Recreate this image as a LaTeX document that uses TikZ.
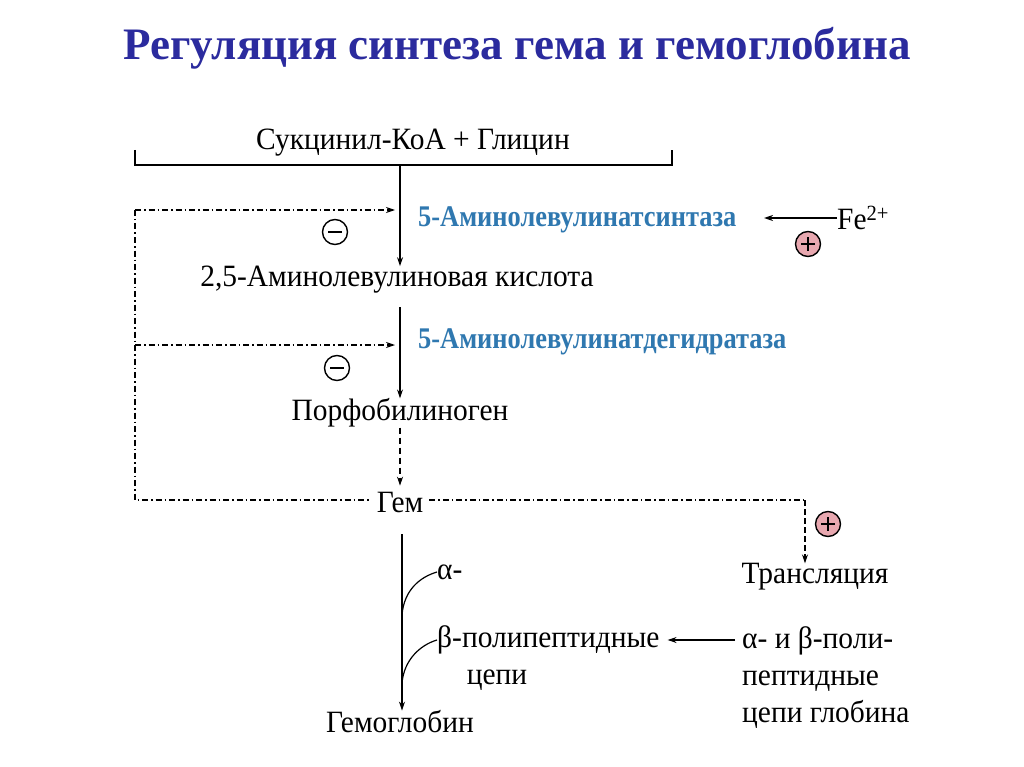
\documentclass[tikz,border=0pt]{standalone}
\usepackage{fontspec}
\setmainfont{Liberation Serif}
\newfontfamily\bodyfont[FakeStretch=0.95]{Liberation Serif}
\newfontfamily\enzfont[FakeStretch=0.88]{Liberation Serif}
\usetikzlibrary{arrows.meta}
\definecolor{titleblue}{HTML}{2B2B9E}
\definecolor{enzblue}{HTML}{2F78B0}
\definecolor{pinkfill}{HTML}{E8A8B0}
\begin{document}
\begin{tikzpicture}[x=1pt,y=-1pt,
  txt/.style={font=\bodyfont\fontsize{31}{37}\selectfont,inner sep=0pt},
  enz/.style={font=\enzfont\bfseries\fontsize{30}{34}\selectfont,text=enzblue,inner sep=0pt,anchor=west},
  arr/.style={-{Stealth[length=9pt,width=6pt]},line width=1.2pt},
  dd/.style={line width=1.2pt,dash pattern=on 6pt off 3pt on 1.5pt off 3pt},
  ddarr/.style={dd,-{Stealth[length=9pt,width=6pt]}},
  sign/.style={circle,draw,line width=1.4pt,minimum size=25pt,inner sep=0pt},
  minus/.style={sign,path picture={\draw[line width=1.6pt] ([xshift=-7pt]path picture bounding box.center) -- ([xshift=7pt]path picture bounding box.center);}},
  plus/.style={sign,fill=pinkfill,path picture={\draw[line width=1.6pt] ([xshift=-7pt]path picture bounding box.center) -- ([xshift=7pt]path picture bounding box.center) ([yshift=-7pt]path picture bounding box.center) -- ([yshift=7pt]path picture bounding box.center);}}]
\useasboundingbox (0,0) rectangle (1024,767);
\fill[white] (0,0) rectangle (1024,767);
\node[font=\bfseries\fontsize{45}{49}\selectfont,text=titleblue] (title) at (517,48) {Регуляция синтеза гема и гемоглобина};
% bracket
\node[txt] (sub) at (413,143) {Сукцинил-КоА + Глицин};
\coordinate (bl) at (135,150); \coordinate (br) at (672,150);
\coordinate (bm) at (400,165);
\draw[line width=1.4pt] (bl) -- (135,165) -- (672,165) -- (br);
\node[txt] (ala) at (397,280) {2,5-Аминолевулиновая кислота};
\node[txt] (pbg) at (400,413) {Порфобилиноген};
\node[txt,outer sep=6pt] (gem) at (400,502) {Гем};
\node[txt] (hb) at (400,722) {Гемоглобин};
\coordinate (c1) at (400,307);
\coordinate (c2) at (402,534);
\draw[arr] (bm) -- (bm |- ala.north);
\draw[arr] (c1) -- (c1 |- pbg.north);
\draw[arr,dash pattern=on 6pt off 4pt] (pbg.south) -- (gem.north);
\draw[arr] (c2) -- (c2 |- hb.north);
% enzymes
\node[enz] (e1) at (418,220) {5-Аминолевулинатсинтаза};
\node[enz] (e2) at (418,342) {5-Аминолевулинатдегидратаза};
\node[txt,anchor=west] (fe) at (837,218) {Fe\textsuperscript{2+}};
\coordinate (feend) at (764,218);
\draw[arr] (fe.west) -- (feend);
\node[plus] (p1) at (808,244) {};
% feedback
\coordinate (l1) at (135,210); \coordinate (l2) at (135,345); \coordinate (l3) at (135,500);
\coordinate (a1) at (395,210); \coordinate (a2) at (395,345);
\draw[ddarr] (l1) -- (a1);
\draw[ddarr] (l2) -- (a2);
\draw[dd] (l1) -- (l3) -- (gem.west |- l3);
\node[minus] (m1) at (335,232) {};
\node[minus] (m2) at (337,368) {};
\coordinate (r1) at (805,500);
\node[txt] (tr) at (815,577) {Трансляция};
\draw[dd] (gem.east |- r1) -- (r1);
\draw[arr,dash pattern=on 6pt off 3pt] (r1) -- (r1 |- tr.north);
\node[plus] (p2) at (828,524) {};
% chains
\node[txt,anchor=west] (alpha) at (437,572) {α-};
\node[txt,anchor=west] (beta) at (437,640) {β-полипептидные};
\node[txt] (tsepi) at (497,680) {цепи};
\coordinate (j1) at (402,615); \coordinate (j2) at (402,683);
\draw[line width=1.2pt] (j1) .. controls (404,590) and (420,577) .. (alpha.west);
\draw[line width=1.2pt] (j2) .. controls (404,660) and (420,645) .. (beta.west);
\node[txt,anchor=west,align=left] (glob) at (742,678) {α- и β-поли-\\пептидные\\цепи глобина};
\coordinate (gs) at (735,640);
\draw[arr] (gs) -- ([xshift=8pt]beta.east);
\end{tikzpicture}
\end{document}
